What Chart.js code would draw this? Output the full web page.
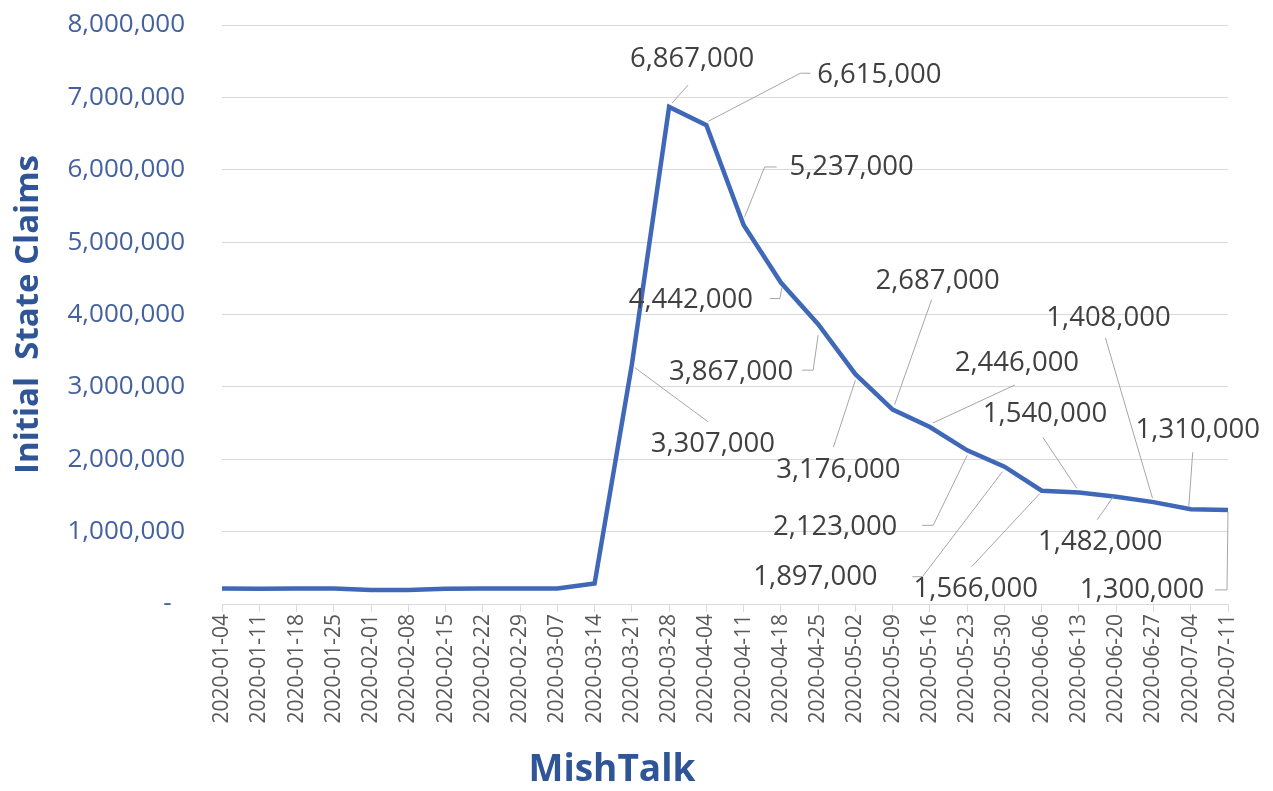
<!DOCTYPE html>
<html>
<head>
<meta charset="utf-8">
<script src="https://cdn.jsdelivr.net/npm/chart.js@4.4.1/dist/chart.umd.min.js"></script>
<style>
    html, body { margin: 0; padding: 0; background: #fff; }
    .wrap { width: 1273px; height: 791px; position: relative; }
</style>
</head>
<body>
<div class="wrap"><canvas id="claims-chart"></canvas></div>
<script>
// weekly dates and initial state claims
const weeks = [
    '2020-01-04', '2020-01-11', '2020-01-18', '2020-01-25', '2020-02-01', '2020-02-08',
    '2020-02-15', '2020-02-22', '2020-02-29', '2020-03-07', '2020-03-14', '2020-03-21',
    '2020-03-28', '2020-04-04', '2020-04-11', '2020-04-18', '2020-04-25', '2020-05-02',
    '2020-05-09', '2020-05-16', '2020-05-23', '2020-05-30', '2020-06-06', '2020-06-13',
    '2020-06-20', '2020-06-27', '2020-07-04', '2020-07-11'
];
const claims = [
    215000, 212000, 215000, 215000, 195000, 193000, 210000, 215000, 215000, 215000, 282000,
    3307000, 6867000, 6615000, 5237000, 4442000, 3867000, 3176000, 2687000, 2446000,
    2123000, 1897000, 1566000, 1540000, 1482000, 1408000, 1310000, 1300000
];
// which points get a value label (index into weeks)
const labelledPoints = [11, 12, 13, 14, 15, 16, 17, 18, 19, 20, 21, 22, 23, 24, 25, 26, 27];
const yTicks = [0, 1000000, 2000000, 3000000, 4000000, 5000000, 6000000, 7000000, 8000000];
const xTitle = 'MishTalk';

// label placement, pixels relative to the point: text centre + leader line points
const labelLayout = {
    11: { dx: 81, dy: 80, leader: [[3, 3], [76, 57]] },
    12: { dx: 23, dy: -48, leader: [[3, -4], [19, -22]] },
    13: { dx: 173, dy: -50, leader: [[2, -4], [94, -52], [104, -52]] },
    14: { dx: 108, dy: -58, leader: [[1, -8], [21, -58], [33, -58]] },
    15: { dx: -90, dy: 18, leader: [[1, 5], [-1, 16], [-11, 16]] },
    16: { dx: -87, dy: 48, leader: [[0, 11], [-5, 46], [-16, 46]] },
    17: { dx: -17, dy: 96, leader: [[0, 6], [-22, 73]] },
    18: { dx: 45, dy: -128, leader: [[2, -5], [39, -110]] },
    19: { dx: 87, dy: -64, leader: [[3, -4], [85, -42]] },
    20: { dx: -132, dy: 77, leader: [[0, 5], [-34, 75], [-45, 75]] },
    21: { dx: -189, dy: 110, leader: [[-2, 5], [-82, 110], [-92, 110]] },
    22: { dx: -66, dy: 99, leader: [[-2, 3], [-70, 76]] },
    23: { dx: -34, dy: -78, leader: [[-2, -4], [-36, -55]] },
    24: { dx: -16, dy: 45, leader: [[-3, 0], [-19, 23]] },
    25: { dx: -45, dy: -184, leader: [[-1, -4], [-48, -164]] },
    26: { dx: 7, dy: -79, leader: [[-2, -2], [2, -57]] },
    27: { dx: -86, dy: 80, leader: [[0, 2], [-1, 80], [-13, 80]] }
};

const fmt = v => v.toLocaleString('en-US');

// draws the value labels with grey leader lines, like the Excel original
const leaderLabels = {
    id: 'leaderLabels',
    afterDatasetsDraw(chart) {
        const ctx = chart.ctx;
        const meta = chart.getDatasetMeta(0);
        ctx.save();
        labelledPoints.forEach(i => {
            const pt = meta.data[i];
            const lay = labelLayout[i];
            if (!pt || !lay) return;
            ctx.strokeStyle = '#a6a6a6';
            ctx.lineWidth = 1;
            ctx.beginPath();
            lay.leader.forEach(([ox, oy], k) => {
                if (k === 0) ctx.moveTo(pt.x + ox, pt.y + oy);
                else ctx.lineTo(pt.x + ox, pt.y + oy);
            });
            ctx.stroke();
            ctx.fillStyle = '#404040';
            ctx.font = '27.5px "Open Sans"';
            ctx.textAlign = 'center';
            ctx.textBaseline = 'middle';
            ctx.fillText(fmt(claims[i]), pt.x + lay.dx, pt.y + lay.dy);
        });

        // axis title under the dates, set left of centre as in the original
        ctx.fillStyle = '#2f5597';
        ctx.font = 'bold 37px "Open Sans"';
        ctx.textAlign = 'center';
        ctx.textBaseline = 'middle';
        ctx.fillText(xTitle, 612, 770);
        ctx.restore();
    }
};

const ctx = document.getElementById('claims-chart').getContext('2d');
new Chart(ctx, {
    type: 'line',
    data: {
        labels: weeks,
        datasets: [{
            label: 'Initial State Claims',
            data: claims,
            borderColor: '#3f68b8',
            borderWidth: 4.5,
            pointRadius: 0,
            tension: 0,
            fill: false
        }]
    },
    options: {
        responsive: true,
        maintainAspectRatio: false,
        animation: false,
        layout: { padding: { top: 25, right: 45, left: 0, bottom: 0 } },
        plugins: {
            legend: { display: false },
            tooltip: { enabled: false }
        },
        scales: {
            x: {
                offset: false,
                grid: { drawOnChartArea: false, drawTicks: true, tickLength: 8, color: '#d9d9d9' },
                border: { display: true, color: '#d9d9d9', width: 1 },
                ticks: {
                    autoSkip: false,
                    minRotation: 90,
                    maxRotation: 90,
                    padding: 2,
                    color: '#595959',
                    font: { family: 'Open Sans', size: 21 }
                },
                afterFit: scale => { scale.height = 187; }
            },
            y: {
                min: 0,
                max: 8000000,
                afterBuildTicks: scale => { scale.ticks = yTicks.map(v => ({ value: v })); },
                grid: { drawTicks: false, color: '#d9d9d9' },
                border: { display: false },
                ticks: {
                    padding: 37,
                    color: '#44619f',
                    font: { family: 'Open Sans', size: 26 },
                    callback: v => (v === 0 ? '-  ' : fmt(v))
                },
                title: {
                    display: true,
                    text: 'Initial  State Claims',
                    color: '#2f5597',
                    padding: { top: 9, bottom: 0 },
                    font: { family: 'Open Sans', size: 33, weight: 'bold' }
                },
                afterFit: scale => {
                    scale.width = 222;
                    // the big tick padding should not push the plot down
                    scale.paddingTop = 0;
                    scale.paddingBottom = 0;
                }
            }
        }
    },
    plugins: [leaderLabels]
});
</script>
</body>
</html>
